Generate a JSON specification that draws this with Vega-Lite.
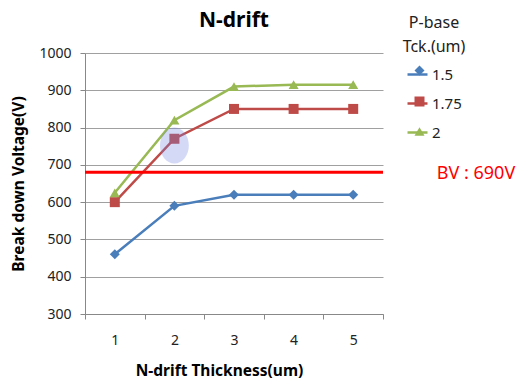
{
  "$schema": "https://vega.github.io/schema/vega-lite/v6.json",
  "width": 298,
  "height": 261,
  "autosize": {"type": "none"},
  "padding": {"left": 85, "top": 53, "right": 137, "bottom": 69},
  "background": "white",
  "config": {
    "font": "Noto Sans",
    "view": {"stroke": null},
    "axis": {"labelFontSize": 14, "labelColor": "#222", "titleFontSize": 15.5, "titleFontWeight": "bold", "titleColor": "#000",
      "tickColor": "#888", "tickSize": 5, "domainColor": "#888", "gridColor": "#a0a0a0", "labelOverlap": false},
    "legend": {"titleFontSize": 16, "titleFontWeight": "normal", "titleColor": "#222", "labelFontSize": 15, "labelColor": "#222"}
  },
  "title": {"text": "N-drift", "fontSize": 21, "fontWeight": "bold", "color": "#000000", "anchor": "middle", "offset": -16},
  "resolve": {"legend": {"color": "independent", "shape": "independent"}},
  "data": {"values": [
      {"thickness": 1, "bv": 460, "ptck": "1.5"},
      {"thickness": 2, "bv": 590, "ptck": "1.5"},
      {"thickness": 3, "bv": 620, "ptck": "1.5"},
      {"thickness": 4, "bv": 620, "ptck": "1.5"},
      {"thickness": 5, "bv": 620, "ptck": "1.5"},
      {"thickness": 1, "bv": 600, "ptck": "1.75"},
      {"thickness": 2, "bv": 770, "ptck": "1.75"},
      {"thickness": 3, "bv": 850, "ptck": "1.75"},
      {"thickness": 4, "bv": 850, "ptck": "1.75"},
      {"thickness": 5, "bv": 850, "ptck": "1.75"},
      {"thickness": 1, "bv": 625, "ptck": "2"},
      {"thickness": 2, "bv": 820, "ptck": "2"},
      {"thickness": 3, "bv": 910, "ptck": "2"},
      {"thickness": 4, "bv": 915, "ptck": "2"},
      {"thickness": 5, "bv": 915, "ptck": "2"}
  ]},
  "encoding": {
    "x": {"field": "thickness", "type": "ordinal", "scale": {"paddingInner": 0, "paddingOuter": 0},
      "axis": {"title": "N-drift  Thickness(um)", "titlePadding": 16, "titleX": 134, "labelAngle": 0, "labelPadding": 14, "tickBand": "extent", "grid": false}},
    "y": {"field": "bv", "type": "quantitative", "scale": {"domain": [300, 1000], "nice": false},
      "axis": {"title": "Break down Voltage(V)", "titlePadding": 12, "values": [300, 400, 500, 600, 700, 800, 900, 1000], "format": "d", "labelPadding": 9}}
  },
  "layer": [
    {
      "mark": {"type": "line", "strokeWidth": 2.5},
      "encoding": {
        "color": {"field": "ptck", "type": "nominal", "scale": {"domain": ["1.5", "1.75", "2"], "range": ["#4A7EBB", "#BE4B48", "#98B954"]},
          "title": ["P-base", "Tck.(um)"],
          "legend": {"orient": "none", "legendX": 318, "legendY": -38, "titlePadding": 8, "rowPadding": 9, "symbolType": "stroke", "symbolSize": 400, "symbolStrokeWidth": 2.5,
            "symbolOpacity": 1, "labelOffset": 3, "titleAnchor": "middle", "titleAlign": "center", "titleLineHeight": 24}}
      }
    },
    {
      "mark": {"type": "point", "filled": true, "opacity": 1, "size": 100},
      "encoding": {
        "color": {"field": "ptck", "type": "nominal", "scale": {"domain": ["1.5", "1.75", "2"], "range": ["#4A7EBB", "#BE4B48", "#98B954"]},
          "title": ["P-base", "Tck.(um)"],
          "legend": {"orient": "none", "legendX": 318, "legendY": -38, "titlePadding": 8, "rowPadding": 14, "symbolOpacity": 1, "symbolOffset": 5,
            "titleColor": "transparent", "labelColor": "transparent", "titleAnchor": "middle", "titleAlign": "center", "titleLineHeight": 24}},
        "shape": {"field": "ptck", "type": "nominal", "scale": {"domain": ["1.5", "1.75", "2"], "range": ["diamond", "square", "triangle-up"]},
          "title": ["P-base", "Tck.(um)"]}
      }
    },
    {
      "data": {"values": [{"bv": 680, "label": "BV : 690V"}]},
      "mark": {"type": "rule", "color": "#FF0000", "strokeWidth": 3},
      "encoding": {"x": null, "y": {"field": "bv", "type": "quantitative"}}
    },
    {
      "data": {"values": [{"bv": 680, "label": "BV : 690V"}]},
      "mark": {"type": "text", "color": "#FF0000", "fontSize": 18, "align": "center", "baseline": "middle", "x": {"expr": "width"}, "dx": 93, "dy": 2},
      "encoding": {"x": null, "y": {"field": "bv", "type": "quantitative"}, "text": {"field": "label"}}
    },
    {
      "data": {"values": [{"thickness": 2, "bv": 752}]},
      "mark": {"type": "point", "filled": true, "color": "#6F80E0", "opacity": 0.3,
        "shape": "M-0.8,0 A0.8,1 0 1,0 0.8,0 A0.8,1 0 1,0 -0.8,0 Z", "size": 1300}
    }
  ]
}
